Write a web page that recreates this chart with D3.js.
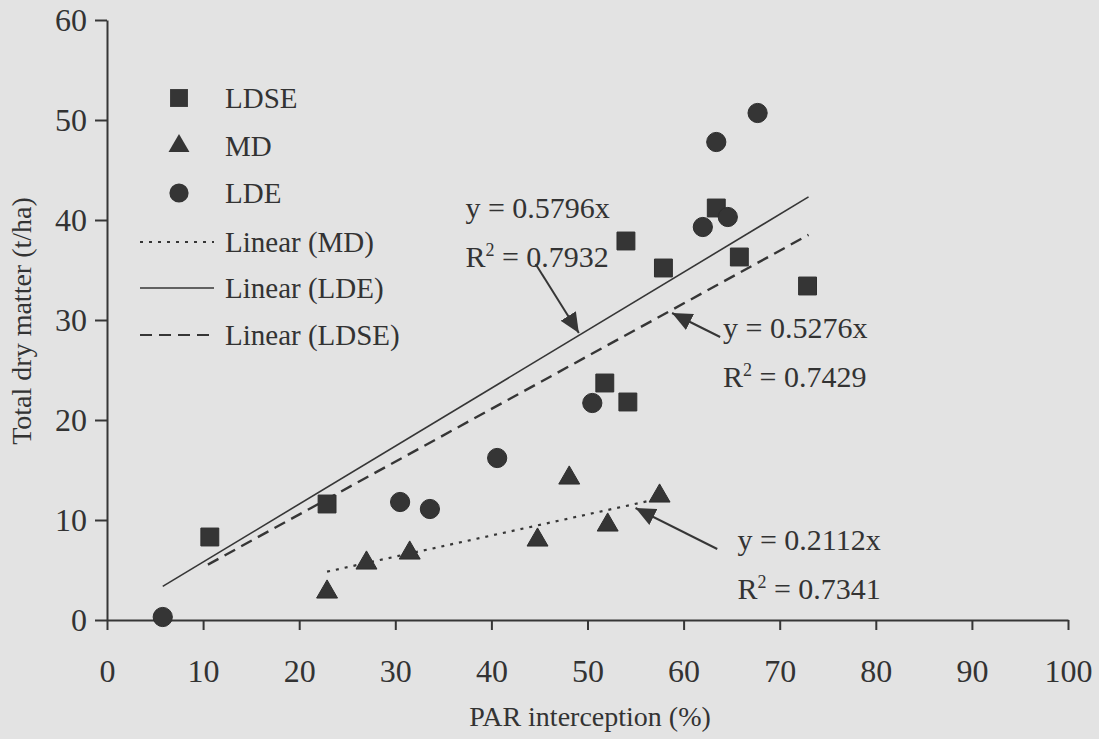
<!DOCTYPE html>
<html>
<head>
<meta charset="utf-8">
<script src="https://cdn.jsdelivr.net/npm/d3@7"></script>
<style>
  html, body { margin: 0; padding: 0; background: #e3e3e3; }
  svg { display: block; }
  text { font-family: "Liberation Serif", "Times New Roman", serif; fill: #333; }
</style>
</head>
<body>
<div id="chart"></div>
<script>
// data
const ldseX = [10.7, 22.9, 54.0, 57.9, 65.8, 72.9, 63.4, 51.8, 54.2];
const ldseY = [8.3, 11.6, 37.9, 35.2, 36.3, 33.4, 41.2, 23.7, 21.8];
const mdX = [22.9, 27.0, 31.5, 44.8, 48.1, 52.1, 57.5];
const mdY = [2.8, 5.7, 6.7, 8.0, 14.2, 9.5, 12.4];
const ldeX = [5.8, 30.5, 33.6, 40.6, 50.5, 62.0, 64.6, 63.4, 67.7];
const ldeY = [0.3, 11.8, 11.1, 16.2, 21.7, 39.3, 40.3, 47.8, 50.7];

const xTicks = [0, 10, 20, 30, 40, 50, 60, 70, 80, 90, 100];
const yTicks = [0, 10, 20, 30, 40, 50, 60];

// fitted lines through origin: slope, x range
const fitNames = ['MD', 'LDE', 'LDSE'];
const fitSlopes = [0.2112, 0.5796, 0.5276];
const fitR2 = ['0.7341', '0.7932', '0.7429'];
const fitStart = [22.9, 5.8, 10.5];
const fitEnd = [57.5, 73.0, 73.0];

// equation labels (data units): text left/baseline, arrow from -> to
const labelX = [65.6, 37.3, 64.1];
const labelY = [7.0, 40.2, 28.2];
const arrowFrom = [[63.5, 7.1], [44.6, 35.6], [63.8, 28.3]];
const arrowTo = [[55.0, 11.2], [49.1, 28.7], [58.8, 30.7]];

const w = 1099;
const h = 739;

const x = d3.scaleLinear().domain([0, 100]).range([107, 1068]);
const y = d3.scaleLinear().domain([0, 60]).range([620, 20]);

const svg = d3.select('#chart')
  .append('svg')
  .attr('width', w)
  .attr('height', h);

svg.append('rect')
  .attr('width', w)
  .attr('height', h)
  .attr('fill', '#e3e3e3');

const ink = '#363636';

svg.append('defs').append('marker')
  .attr('id', 'head')
  .attr('markerUnits', 'userSpaceOnUse')
  .attr('viewBox', '0 0 20 18')
  .attr('refX', 20)
  .attr('refY', 9)
  .attr('markerWidth', 20)
  .attr('markerHeight', 18)
  .attr('orient', 'auto')
  .append('path')
  .attr('d', 'M0,0 L20,9 L0,18 Z')
  .attr('fill', ink);

// axes
const xAxis = d3.axisBottom(x)
  .tickValues(xTicks)
  .tickSize(10)
  .tickSizeOuter(0)
  .tickPadding(29);
const yAxis = d3.axisLeft(y)
  .tickValues(yTicks)
  .tickSize(12)
  .tickSizeOuter(0)
  .tickPadding(8);

const gx = svg.append('g')
  .attr('transform', 'translate(0,' + y(0) + ')')
  .call(xAxis);
const gy = svg.append('g')
  .attr('transform', 'translate(' + x(0) + ',0)')
  .call(yAxis);

[gx, gy].forEach(g => {
  g.select('.domain').attr('stroke', ink).attr('stroke-width', 2);
  g.selectAll('.tick line').attr('stroke', ink).attr('stroke-width', 2);
  g.selectAll('.tick text')
    .style('font-size', '32px')
    .style('font-family', '"Liberation Serif", serif')
    .attr('fill', '#333');
});

// axis titles
svg.append('text')
  .attr('x', 590)
  .attr('y', 726)
  .attr('text-anchor', 'middle')
  .style('font-size', '28px')
  .text('PAR interception (%)');

svg.append('text')
  .attr('transform', 'translate(31,' + 321 + ') rotate(-90)')
  .attr('text-anchor', 'middle')
  .style('font-size', '28px')
  .text('Total dry matter (t/ha)');

// trend lines
const fitDash = ['3,6', null, '12,7'];
const fitWidth = [2.2, 1.6, 2.4];
fitNames.forEach((name, i) => {
  svg.append('line')
    .attr('x1', x(fitStart[i]))
    .attr('y1', y(fitStart[i] * fitSlopes[i]))
    .attr('x2', x(fitEnd[i]))
    .attr('y2', y(fitEnd[i] * fitSlopes[i]))
    .attr('stroke', ink)
    .attr('stroke-width', fitWidth[i])
    .attr('stroke-dasharray', fitDash[i]);
});

// points
const sym = {
  LDSE: d3.symbol().type(d3.symbolSquare).size(320),
  MD: d3.symbol().type(d3.symbolTriangle).size(190),
  LDE: d3.symbol().type(d3.symbolCircle).size(290)
};

function drawSeries(xs, ys, key) {
  svg.append('g').selectAll('path')
    .data(xs.map((v, i) => [v, ys[i]]))
    .enter()
    .append('path')
    .attr('d', sym[key]())
    .attr('transform', d => 'translate(' + x(d[0]) + ',' + y(d[1]) + ')')
    .attr('fill', '#353535')
    .attr('stroke', '#2e2e2e')
    .attr('stroke-width', 1);
}
drawSeries(ldseX, ldseY, 'LDSE');
drawSeries(mdX, mdY, 'MD');
drawSeries(ldeX, ldeY, 'LDE');

// equation labels with arrows
fitNames.forEach((name, i) => {
  svg.append('line')
    .attr('x1', x(arrowFrom[i][0]))
    .attr('y1', y(arrowFrom[i][1]))
    .attr('x2', x(arrowTo[i][0]))
    .attr('y2', y(arrowTo[i][1]))
    .attr('stroke', ink)
    .attr('stroke-width', 2)
    .attr('marker-end', 'url(#head)');

  svg.append('text')
    .attr('x', x(labelX[i]))
    .attr('y', y(labelY[i]))
    .style('font-size', '30px')
    .text('y = ' + fitSlopes[i].toFixed(4) + 'x');

  const r = svg.append('text')
    .attr('x', x(labelX[i]))
    .attr('y', y(labelY[i]) + 49)
    .style('font-size', '30px');
  r.append('tspan').text('R');
  r.append('tspan').attr('dy', -11).style('font-size', '18px').text('2');
  r.append('tspan').attr('dy', 11).text(' = ' + fitR2[i]);
});

// legend
const legendKeys = ['LDSE', 'MD', 'LDE'];
const legendRows = [98, 146, 193];
legendKeys.forEach((k, i) => {
  svg.append('path')
    .attr('d', sym[k]())
    .attr('transform', 'translate(179,' + legendRows[i] + ')')
    .attr('fill', '#353535');
  svg.append('text')
    .attr('x', 225)
    .attr('y', legendRows[i] + 10)
    .style('font-size', '29px')
    .text(k);
});

const lineRows = [242, 288, 335];
fitNames.forEach((name, i) => {
  svg.append('line')
    .attr('x1', 140)
    .attr('x2', 214)
    .attr('y1', lineRows[i])
    .attr('y2', lineRows[i])
    .attr('stroke', ink)
    .attr('stroke-width', fitWidth[i] * 0.8)
    .attr('stroke-dasharray', fitDash[i]);
  svg.append('text')
    .attr('x', 225)
    .attr('y', lineRows[i] + 10)
    .style('font-size', '29px')
    .text('Linear (' + name + ')');
});
</script>
</body>
</html>
